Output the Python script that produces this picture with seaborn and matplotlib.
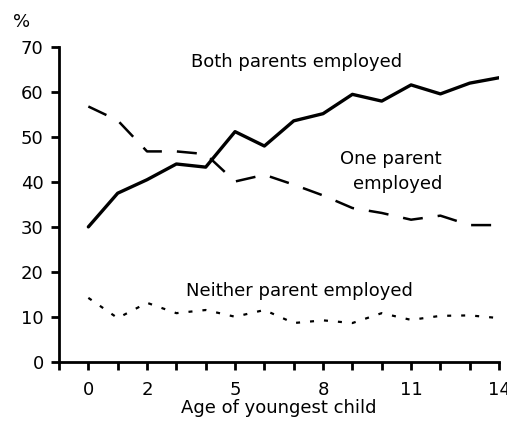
import matplotlib
matplotlib.use("Agg")
import matplotlib.pyplot as plt
import seaborn as sns
import pandas as pd
import numpy as np

ages = list(range(0, 15))
both_employed = [30, 37.5, 40.5, 44, 43.3, 51.2, 48, 53.6, 55.2, 59.5, 58, 61.6, 59.6, 62, 63.2]
one_employed = [56.8, 53.7, 46.8, 46.8, 46.2, 40.1, 41.6, 39.4, 37, 34.2, 33.1, 31.6, 32.5, 30.4, 30.4]
neither_employed = [14.2, 9.7, 13.1, 10.8, 11.5, 10, 11.5, 8.6, 9.2, 8.6, 10.8, 9.3, 10.2, 10.3, 9.7]
xtick_labels = [0, 2, 5, 8, 11, 14]
ytick_labels = [0, 10, 20, 30, 40, 50, 60, 70]

sns.set_style("ticks")
plt.rcParams['font.family'] = ['DejaVu Sans']
plt.rcParams['text.color'] = 'black'
plt.rcParams['axes.labelcolor'] = 'black'

df = pd.DataFrame({'age': ages, 'both': both_employed, 'one': one_employed, 'neither': neither_employed})

fig = plt.figure(figsize=(5.07, 4.25), dpi=100)
ax = fig.add_axes([0.1164, 0.149, 0.868, 0.74])

sns.lineplot(data=df, x='age', y='both', ax=ax, color='black', linewidth=2.4)
sns.lineplot(data=df, x='age', y='one', ax=ax, color='black', linewidth=1.8)
ax.lines[-1].set_dashes((8, 6))
sns.lineplot(data=df, x='age', y='neither', ax=ax, color='black', linewidth=1.6)
ax.lines[-1].set_dashes((1.8, 4.5))

ax.set_xlim(-1, 14)
ax.set_ylim(0, 70)
ax.set_xticks(range(-1, 15))
ax.set_xticklabels(['' if a not in xtick_labels else str(a) for a in range(-1, 15)])
ax.set_yticks(ytick_labels)
ax.set_yticklabels([str(v) for v in ytick_labels])
ax.tick_params(axis='both', labelsize=13, width=2, length=6, color='black', labelcolor='black')
ax.tick_params(axis='x', pad=8)
ax.tick_params(axis='y', pad=5)
sns.despine(ax=ax)
for s in ['left', 'bottom']:
    ax.spines[s].set_linewidth(2)
    ax.spines[s].set_color('black')

ax.set_xlabel('Age of youngest child', fontsize=13, labelpad=0)
ax.set_ylabel('')
fig.text(0.026, 0.937, '%', fontsize=13)

ax.text(7.1, 66.6, 'Both parents employed', fontsize=13, ha='center', va='center')
ax.text(12.05, 42.3, 'One parent\nemployed', fontsize=13, ha='right', va='center', linespacing=1.5)
ax.text(7.2, 15.7, 'Neither parent employed', fontsize=13, ha='center', va='center')

fig.savefig('out.png', dpi=100)
